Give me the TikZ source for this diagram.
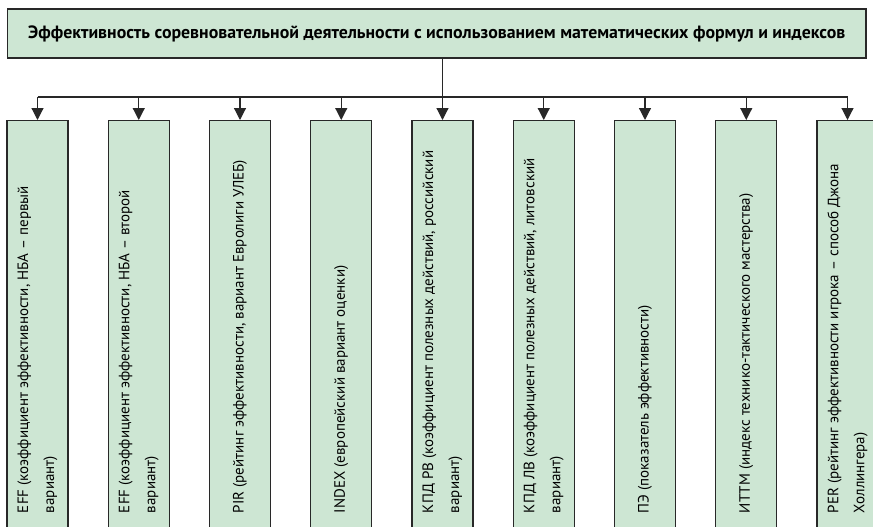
\documentclass[tikz,border=0pt]{standalone}
\usepackage{fontspec}
\setmainfont{PT Sans}
\usetikzlibrary{positioning,arrows.meta}
\definecolor{boxgreen}{RGB}{205,230,211}
\definecolor{edge}{RGB}{40,40,40}

\begin{document}
\begin{tikzpicture}[x=1pt,y=1pt,
    topbox/.style={draw=edge,line width=1.2pt,fill=boxgreen,minimum width=858.5pt,minimum height=49pt,inner sep=0pt,font=\bfseries\fontsize{17.8}{20}\selectfont},
    vbox/.style={draw=edge,line width=1.2pt,fill=boxgreen,rotate=90,anchor=east,minimum height=61pt,minimum width=420pt,inner sep=0pt},
    vtext/.style={rotate=90,anchor=west,inner sep=0pt,align=left,font=\fontsize{15}{26}\selectfont},
    arr/.style={-{Triangle[width=12pt,length=12pt]},line width=1.2pt,draw=edge}]
    \useasboundingbox (0,0) rectangle (873,-527);
    \clip (0,0) rectangle (873,-527);

    % Заголовок
    \node[topbox] (top) at (436.75,-33.5) {Эффективность соревновательной деятельности с использованием математических формул и индексов};

    % Показатели
    \node[vbox] (eff1) at (37.5,-120) {};
    \node[vbox] (eff2) at (138.75,-120) {};
    \node[vbox] (pir) at (240,-120) {};
    \node[vbox] (index) at (341.25,-120) {};
    \node[vbox] (kpdrv) at (442.5,-120) {};
    \node[vbox] (kpdlv) at (543.75,-120) {};
    \node[vbox] (pe) at (645,-120) {};
    \node[vbox] (ittm) at (746.25,-120) {};
    \node[vbox] (per) at (847.5,-120) {};

    % Подписи (снизу вверх)
    \node[vtext] (eff1-t) at ([yshift=28pt]eff1.west) {EFF (коэффициент эффективности, НБА – первый\\вариант)};
    \node[vtext] (eff2-t) at ([yshift=28pt]eff2.west) {EFF (коэффициент эффективности, НБА – второй\\вариант)};
    \node[vtext] (pir-t) at ([yshift=28pt]pir.west) {PIR (рейтинг эффективности, вариант Евролиги УЛЕБ)};
    \node[vtext] (index-t) at ([yshift=28pt]index.west) {INDEX (европейский вариант оценки)};
    \node[vtext] (kpdrv-t) at ([yshift=28pt]kpdrv.west) {КПД РВ (коэффициент полезных действий, российский\\вариант)};
    \node[vtext] (kpdlv-t) at ([yshift=28pt]kpdlv.west) {КПД ЛВ (коэффициент полезных действий, литовский\\вариант)};
    \node[vtext] (pe-t) at ([yshift=28pt]pe.west) {ПЭ (показатель эффективности)};
    \node[vtext] (ittm-t) at ([yshift=28pt]ittm.west) {ИТТМ (индекс технико-тактического мастерства)};
    \node[vtext] (per-t) at ([yshift=28pt]per.west) {PER (рейтинг эффективности игрока – способ Джона\\Холлингера)};

    % Шина
    \coordinate (bus) at (0,-97);
    \draw[edge,line width=1.2pt] (kpdrv.east |- top.south) -- (kpdrv.east |- bus);
    \draw[edge,line width=1.2pt] (eff1.east |- bus) -- (per.east |- bus);

    % Стрелки
    \draw[arr] (eff1.east |- bus) -- (eff1.east);
    \draw[arr] (eff2.east |- bus) -- (eff2.east);
    \draw[arr] (pir.east |- bus) -- (pir.east);
    \draw[arr] (index.east |- bus) -- (index.east);
    \draw[arr] (kpdrv.east |- bus) -- (kpdrv.east);
    \draw[arr] (kpdlv.east |- bus) -- (kpdlv.east);
    \draw[arr] (pe.east |- bus) -- (pe.east);
    \draw[arr] (ittm.east |- bus) -- (ittm.east);
    \draw[arr] (per.east |- bus) -- (per.east);
\end{tikzpicture}
\end{document}
